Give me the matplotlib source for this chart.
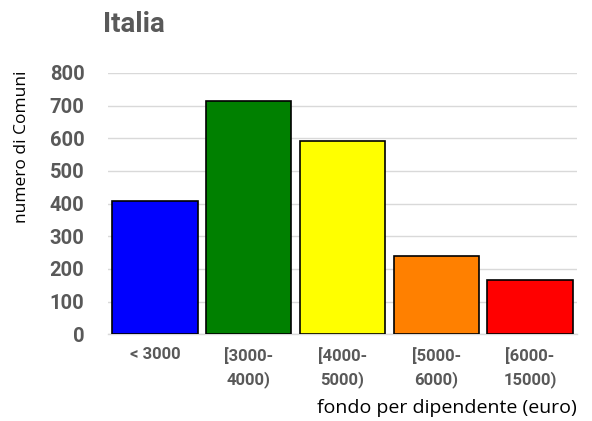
import matplotlib
matplotlib.use("Agg")
import matplotlib.pyplot as plt

categories = ["< 3000", "[3000-\n4000)", "[4000-\n5000)", "[5000-\n6000)", "[6000-\n15000)"]
values = [408, 715, 592, 239, 165]
colors = ["#0000FF", "#008000", "#FFFF00", "#FF8000", "#FF0000"]
yticks = [0, 100, 200, 300, 400, 500, 600, 700, 800]

plt.rcParams['font.family'] = ['Open Sans', 'DejaVu Sans']
BOLD = ['Roboto', 'DejaVu Sans']

fig = plt.figure(figsize=(5.92, 4.21), dpi=100)
ax = fig.add_axes([108/592, 1-334.3/421, (577-108)/592, (334.3-73)/421])

x = list(range(len(categories)))
ax.bar(x, values, width=0.91, color=colors, edgecolor="black", linewidth=1.2, zorder=3)

ax.set_xlim(-0.5, len(categories)-0.5)
ax.set_ylim(0, 800)
ax.set_yticks(yticks)
ax.set_yticklabels([str(v) for v in yticks], fontsize=14.5, fontweight="bold", color="#595959", family=BOLD)
ax.set_xticks(x)
ax.set_xticklabels(categories, fontsize=12, fontweight="bold", color="#595959", va="top", linespacing=1.55, family=BOLD)
ax.tick_params(axis="y", length=0, pad=17)
ax.tick_params(axis="x", length=0, pad=9)

ax.grid(axis="y", color="#d9d9d9", linewidth=1, zorder=0)
for s in ["top", "right", "left"]:
    ax.spines[s].set_visible(False)
ax.spines["bottom"].set_color("#d9d9d9")
ax.spines["bottom"].set_linewidth(1)

fig.text(103/592, 1-24/421, "Italia", fontsize=20, fontweight="bold", color="#595959", va="center", ha="left", family=BOLD)
fig.text(22/592, 1-147/421, "numero di Comuni", fontsize=12.5, color="#000000", rotation=90, va="center", ha="center")
fig.text(577/592, 1-408/421, "fondo per dipendente (euro)", fontsize=14, color="#000000", va="center", ha="right")

fig.savefig("out.png", dpi=100)
